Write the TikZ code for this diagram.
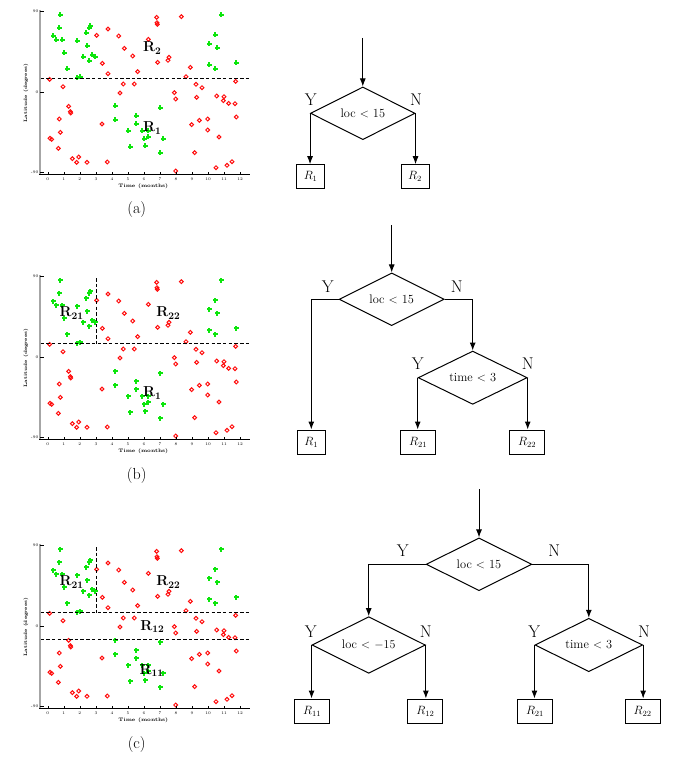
\documentclass[tikz,border=0pt]{standalone}
\usetikzlibrary{shapes.geometric,arrows.meta}
\definecolor{ptred}{rgb}{1,0.05,0.05}
\definecolor{ptgreen}{rgb}{0.05,0.9,0.05}
\newcommand\myplot[2]{%
  % points
  \foreach \a/\b in {410/52,484/50,411/68,412/73,264/87,230/106,296/108,385/118,313/145,338/168,447/172,444/181,413/187,247/190,511/202,264/221,353/215,498/230,89/238,647/244,310/252,343/252,528/253,129/260,546/263,300/279,463/278,467/297,530/292,590/288,612/290,610/302,626/310,645/311,146/319,151/335,152/339,118/357,649/351,563/357,538/361,515/374,246/372,121/397,563/390,90/415,95/418,597/411,115/445,524/458,157/476,176/471,170/487,201/487,262/486,636/485,621/496,588/503,467/513}
    {\draw[ptred,line width=1pt] ({20+\a/3},{#1+\b/3}) circle (1.9);}
  \foreach \a/\b in {120/45,602/46,209/77,208/84,118/84,199/100,98/109,108/119,125/119,584/104,171/123,567/133,202/137,591/144,131/158,190/170,215/166,224/170,207/184,649/189,141/206,566/196,584/207,181/231,172/233,284/317,419/325,348/349,285/360,348/373,323/392,365/392,385/393,372/416,385/411,430/418,329/441,375/439,419/460}
    {\pgfmathsetmacro\px{round(20+\a/3)}\pgfmathsetmacro\py{round(#1+\b/3)}%
     \fill[ptgreen] ({\px-2.5},{\py-0.75}) rectangle ({\px+2.5},{\py+0.75});
     \fill[ptgreen] ({\px-0.75},{\py-2.5}) rectangle ({\px+0.75},{\py+2.5});}
  % axes
  \draw[gray!70,line width=2pt] (40,{#1+10}) -- (40,{#1+174});
  \draw[line width=0.8pt] (39,{#1+174}) -- (250,{#1+174});
  \foreach \k in {0,...,12} {
    \draw[line width=0.4pt] ({47.8+16.03*\k},{#1+172.2}) -- ({47.8+16.03*\k},{#1+174});
    \node[font=\fontsize{4}{5}\selectfont,inner sep=0pt] (x#2\k) at ({47.8+16.03*\k},{#1+179}) {\k};
  }
  \foreach \v/\yy in {90/11,0/92,-90/172.5} {
    \draw[line width=0.4pt] (40,{#1+\yy}) -- (43.5,{#1+\yy});
    \node[font=\fontsize{4}{5}\selectfont,inner sep=0pt,anchor=east] (y#2\v) at (38.5,{#1+\yy}) {\v};
  }
  \node[font=\fontsize{4.8}{6}\selectfont\bfseries,inner sep=0pt,rotate=90] (lat#2) at (26,{#1+93}) {Latitude (degrees)};
  \node[font=\fontsize{5}{6}\selectfont\bfseries,inner sep=0pt] (tim#2) at (143.3,{#1+186}) {Time (months)};
  \draw[line width=0.9pt,dash pattern=on 3.5pt off 2.2pt] (40.5,{#1+78.5}) -- (249,{#1+78.5});
}
\begin{document}
\begin{tikzpicture}[x=1pt,y=-1pt,
  arr/.style={line width=1pt,-{Latex[length=8pt,width=6pt]}},
  dec/.style={draw,diamond,aspect=2,line width=1pt,inner sep=0pt,font=\fontsize{12.4}{14}\selectfont},
  leaf/.style={draw,rectangle,line width=1pt,minimum height=24pt,inner sep=0pt,font=\fontsize{12}{14}\selectfont},
  yn/.style={font=\fontsize{17}{20}\selectfont,inner sep=0pt},
  reg/.style={font=\fontsize{14}{16}\selectfont,inner sep=0pt},
  capt/.style={font=\fontsize{16}{19}\selectfont,inner sep=0pt},
  dsh/.style={line width=0.9pt,dash pattern=on 3.5pt off 2.2pt}]
\useasboundingbox[fill=white] (0,0) rectangle (687,767);

% ---------- plots ----------
\myplot{0}{a}
\myplot{265}{b}
\myplot{534}{c}
\draw[dsh] (96.3,278) -- (96.3,343.5);
\draw[dsh] (96.3,547) -- (96.3,612.5);
\draw[dsh] (40.5,639.5) -- (249,639.5);

\node[reg] (ga2) at (152.3,48) {$\mathbf{R_{2}}$};
\node[reg] (ga1) at (152.3,128) {$\mathbf{R_{1}}$};
\node[reg] (gb21) at (71.7,313) {$\mathbf{R_{21}}$};
\node[reg] (gb22) at (168.3,313) {$\mathbf{R_{22}}$};
\node[reg] (gb1) at (152.3,393) {$\mathbf{R_{1}}$};
\node[reg] (gc21) at (71.7,582) {$\mathbf{R_{21}}$};
\node[reg] (gc22) at (168.3,582) {$\mathbf{R_{22}}$};
\node[reg] (gc12) at (152.3,626.3) {$\mathbf{R_{12}}$};
\node[reg] (gc11) at (151.7,670.5) {$\mathbf{R_{11}}$};

\node[capt] (capa) at (136.7,210) {(a)};
\node[capt] (capb) at (136.7,476) {(b)};
\node[capt] (capc) at (136.7,744) {(c)};

% ---------- tree (a) ----------
\coordinate (sa) at (362.8,38);
\node[dec,minimum width=104.5pt,minimum height=52.7pt] (da) at (362.8,113.3) {loc $<$ 15};
\node[leaf,minimum width=28pt] (ra1) at (310.6,176.7) {$R_1$};
\node[leaf,minimum width=28pt] (ra2) at (415,176.7) {$R_2$};
\draw[arr] (sa) -- (da.north);
\draw[arr] (da.west) -- (da.west |- ra1.north);
\draw[arr] (da.east) -- (da.east |- ra2.north);
\node[yn] (ya) at (310.7,100) {Y};
\node[yn] (na) at (416,100) {N};

% ---------- tree (b) ----------
\coordinate (sb) at (391.7,225);
\node[dec,minimum width=105pt,minimum height=52.7pt] (db1) at (391.7,299.3) {loc $<$ 15};
\node[dec,minimum width=109pt,minimum height=53.3pt] (db2) at (472.7,377.7) {time $<$ 3};
\node[leaf,minimum width=28pt] (rb1) at (311.3,442) {$R_1$};
\node[leaf,minimum width=35pt] (rb21) at (418.2,442) {$R_{21}$};
\node[leaf,minimum width=35pt] (rb22) at (527.2,442) {$R_{22}$};
\draw[arr] (sb) -- (db1.north);
\draw[arr] (db1.west) -| (rb1.north);
\draw[arr] (db1.east) -| (db2.north);
\draw[arr] (db2.west) -- (db2.west |- rb21.north);
\draw[arr] (db2.east) -- (db2.east |- rb22.north);
\node[yn] (yb1) at (327.7,286.7) {Y};
\node[yn] (nb1) at (456.7,286.7) {N};
\node[yn] (yb2) at (417.7,363.3) {Y};
\node[yn] (nb2) at (527.7,363.3) {N};

% ---------- tree (c) ----------
\coordinate (sc) at (479,489);
\node[dec,minimum width=105.7pt,minimum height=52.7pt] (dc1) at (479,564.3) {loc $<$ 15};
\node[dec,minimum width=113.3pt,minimum height=56.7pt] (dc2) at (368.7,645) {loc $<$ $-15$};
\node[dec,minimum width=107.7pt,minimum height=53.4pt] (dc3) at (588.8,645) {time $<$ 3};
\node[leaf,minimum width=35pt] (rc11) at (312.1,711) {$R_{11}$};
\node[leaf,minimum width=35pt] (rc12) at (425.3,711) {$R_{12}$};
\node[leaf,minimum width=35pt] (rc21) at (535,711) {$R_{21}$};
\node[leaf,minimum width=35pt] (rc22) at (642.6,711) {$R_{22}$};
\draw[arr] (sc) -- (dc1.north);
\draw[arr] (dc1.west) -| (dc2.north);
\draw[arr] (dc1.east) -| (dc3.north);
\draw[arr] (dc2.west) -- (dc2.west |- rc11.north);
\draw[arr] (dc2.east) -- (dc2.east |- rc12.north);
\draw[arr] (dc3.west) -- (dc3.west |- rc21.north);
\draw[arr] (dc3.east) -- (dc3.east |- rc22.north);
\node[yn] (yc1) at (402.7,551) {Y};
\node[yn] (nc1) at (554.3,551) {N};
\node[yn] (yc2) at (310.7,631.7) {Y};
\node[yn] (nc2) at (425.7,631.7) {N};
\node[yn] (yc3) at (534.3,631.7) {Y};
\node[yn] (nc3) at (644,631.7) {N};
\end{tikzpicture}
\end{document}
